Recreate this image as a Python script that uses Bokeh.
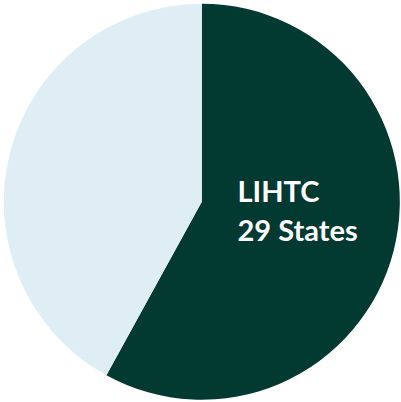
import math
from bokeh.plotting import figure
from bokeh.models import Range1d, ColumnDataSource
from bokeh.core.properties import value
from bokeh.embed import file_html
from bokeh.resources import INLINE

categories = ["LIHTC", "Other"]
states = [29, 21]
colors = ["#023A32", "#DFEDF5"]

total = sum(states)
starts, ends = [], []
acc = 0
for v in states:
    starts.append(math.pi / 2 - acc / total * 2 * math.pi)
    acc += v
    ends.append(math.pi / 2 - acc / total * 2 * math.pi)

W, H = 401, 402
p = figure(width=W, height=H, output_backend="svg", toolbar_location=None,
           x_range=Range1d(0, W), y_range=Range1d(0, H), min_border=0,
           outline_line_color=None, background_fill_color="white",
           border_fill_color="white")
p.axis.visible = False
p.grid.visible = False
p.styles = {"position": "absolute", "left": "0px", "top": "0px"}

cx, cy, r = 201.3, 200.8, 198
src = ColumnDataSource(dict(start=starts, end=ends, color=colors))
p.wedge(x=cx, y=cy, radius=r, start_angle="start", end_angle="end",
        direction="clock", fill_color="color", line_color=None, source=src)

lines = [categories[0], f"{states[0]} States"]
p.text(x=[237, 237], y=[H - 190, H - 229], text=lines,
       text_color="white", text_font=value("Lato"), text_font_style="bold",
       text_font_size="29px", text_baseline="alphabetic", text_align="left")

open("out.html", "w").write(file_html(p, INLINE))
